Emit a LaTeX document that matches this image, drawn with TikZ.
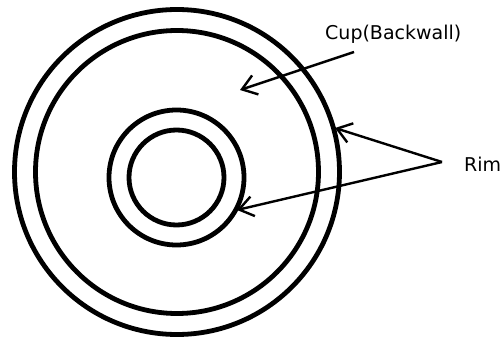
\documentclass[tikz,border=0pt]{standalone}
\usepackage{fontspec}
\setmainfont{DejaVu Sans}
\usetikzlibrary{arrows.meta}

\begin{document}
\begin{tikzpicture}[x=1pt, y=-1pt, font=\fontsize{19}{22}\selectfont,
    ring/.style={draw, line width=4.8pt},
    pointer/.style={-{Straight Barb[length=14pt, width=20pt]}, line width=2.4pt},
    label/.style={anchor=base west, inner sep=0pt, text=black}]
  \useasboundingbox (0,0) rectangle (504,340);
  \coordinate (c0) at (177,172);
  \coordinate (c1) at (176.5,177.5);
  \draw[ring] (c0) circle (162.5pt);
  \draw[ring] (c0) circle (141.5pt);
  \draw[ring] (c1) circle (67.5pt);
  \draw[ring] (c1) circle (47.5pt);
  \node[label] (cup) at (325,39) {Cup(Backwall)};
  \node[label] (rim) at (464,171) {Rim};
  \coordinate (cupfrom) at (354,52);
  \coordinate (cupto) at (240,90);
  \coordinate (rimfrom) at (442,162);
  \coordinate (rimto1) at (335,128);
  \coordinate (rimto2) at (237,210);
  \draw[pointer] (cupfrom) -- (cupto);
  \draw[pointer] (rimfrom) -- (rimto1);
  \draw[pointer] (rimfrom) -- (rimto2);
\end{tikzpicture}
\end{document}
